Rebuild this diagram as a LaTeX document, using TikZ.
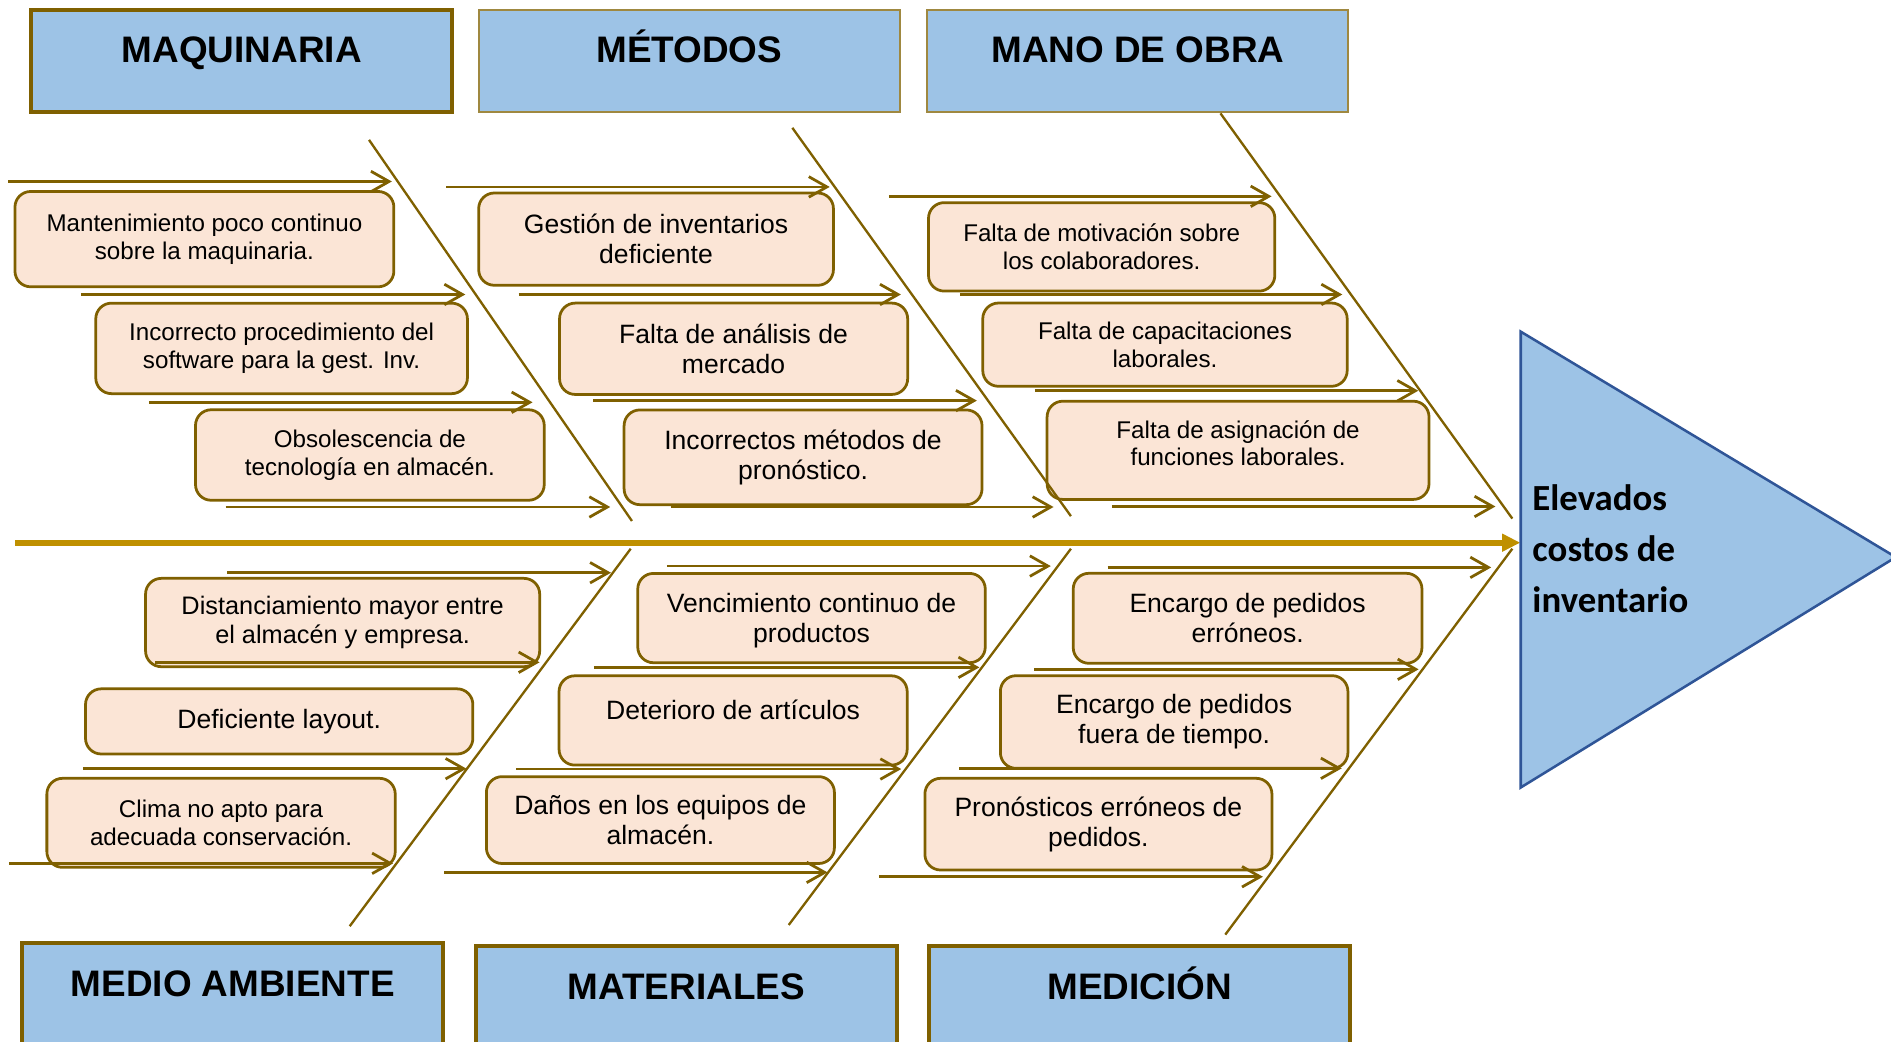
\documentclass[tikz,border=0pt]{standalone}
\usepackage{fontspec}
\setmainfont{Liberation Sans}
\newfontfamily\calibrifont{Carlito}
\usetikzlibrary{arrows.meta}
\definecolor{boneolive}{HTML}{7F6000}
\definecolor{headblue}{HTML}{9DC3E6}
\definecolor{causepeach}{HTML}{FBE5D6}
\definecolor{spinegold}{HTML}{BF9000}
\definecolor{effectline}{HTML}{2F5597}
\tikzset{
  header/.style={draw=boneolive, fill=headblue, line width=0.9pt, minimum width=3.49cm,
    minimum height=0.85cm, inner sep=0pt, text height=0.22cm, text depth=0.19cm,
    font=\bfseries\fontsize{8.7}{10}\selectfont},
  light header/.style={header, draw=boneolive!75, line width=0.5pt},
  cause/.style={draw=boneolive, fill=causepeach, rounded corners=0.13cm, line width=0.65pt,
    inner sep=0pt, align=center},
  cause small/.style={cause, font=\fontsize{5.7}{6.55}\selectfont},
  cause mid/.style={cause, font=\fontsize{5.97}{6.83}\selectfont},
  cause big/.style={cause, font=\fontsize{6.26}{7.1}\selectfont},
  causearrow/.style={draw=boneolive, line width=0.65pt, -{Straight Barb[length=0.15cm,width=0.17cm]}},
  bone/.style={draw=boneolive, line width=0.55pt},
  spine/.style={draw=spinegold, line width=1.45pt, -{Triangle[length=0.15cm,width=0.14cm]}},
  effectshape/.style={draw=effectline, fill=headblue, line width=0.6pt}
}
\begin{document}
\begin{tikzpicture}[x=0.01cm, y=-0.01cm]
\useasboundingbox (0,0) rectangle (1568,864);
% categorias
\node[header] (maq) at (200.5,50.5) {MAQUINARIA};
\node[light header] (met) at (571.5,50.5) {MÉTODOS};
\node[light header] (mob) at (943.5,50.5) {MANO DE OBRA};
\node[header] (mam) at (193,824.5) {MEDIO AMBIENTE};
\node[header] (mat) at (569,827) {MATERIALES};
\node[header] (med) at (945,827) {MEDICIÓN};
% causas
\node[cause small, minimum width=3.14cm, minimum height=0.79cm] (mq1) at (169.5,198.3) {Mantenimiento poco continuo\\sobre la maquinaria.};
\node[cause small, minimum width=3.08cm, minimum height=0.75cm] (mq2) at (233.5,288.9) {Incorrecto procedimiento del\\software para la gest. Inv.};
\node[cause small, minimum width=2.89cm, minimum height=0.75cm] (mq3) at (306.7,377.3) {Obsolescencia de\\tecnología en almacén.};
\node[cause big, minimum width=2.94cm, minimum height=0.765cm] (mt1) at (544,198.3) {Gestión de inventarios\\deficiente};
\node[cause big, minimum width=2.885cm, minimum height=0.757cm] (mt2) at (608.3,289.2) {Falta de análisis de\\mercado};
\node[cause big, minimum width=2.966cm, minimum height=0.785cm] (mt3) at (665.9,379.2) {Incorrectos métodos de\\pronóstico.};
\node[cause small, minimum width=2.87cm, minimum height=0.733cm] (mo1) at (913.5,204.7) {Falta de motivación sobre\\los colaboradores.};
\node[cause small, minimum width=3.02cm, minimum height=0.69cm] (mo2) at (966,285.8) {Falta de capacitaciones\\laborales.};
\node[cause small, minimum width=3.165cm, minimum height=0.814cm, text depth=0.12cm] (mo3) at (1026.6,373.4) {Falta de asignación de\\funciones laborales.};
\node[cause mid, minimum width=3.266cm, minimum height=0.732cm] (ma1) at (284.1,516.2) {Distanciamiento mayor entre\\el almacén y empresa.};
\node[cause big, minimum width=3.21cm, minimum height=0.54cm] (ma2) at (231.5,598.2) {Deficiente layout.};
\node[cause small, minimum width=2.887cm, minimum height=0.738cm] (ma3) at (183.3,682.3) {Clima no apto para\\adecuada conservación.};
\node[cause big, minimum width=2.88cm, minimum height=0.74cm, text depth=0pt] (mr1) at (672.9,512.5) {Vencimiento continuo de\\productos};
\node[cause big, minimum width=2.885cm, minimum height=0.74cm, text depth=0.17cm] (mr2) at (607.9,597.4) {Deterioro de artículos};
\node[cause big, minimum width=2.884cm, minimum height=0.72cm, text depth=0pt] (mr3) at (547.6,680) {Daños en los equipos de\\almacén.};
\node[cause big, minimum width=2.89cm, minimum height=0.746cm] (md1) at (1034.5,512.7) {Encargo de pedidos\\erróneos.};
\node[cause big, minimum width=2.88cm, minimum height=0.768cm] (md2) at (973.6,598.7) {Encargo de pedidos\\fuera de tiempo.};
\node[cause big, minimum width=2.876cm, minimum height=0.76cm] (md3) at (910.8,683.4) {Pronósticos erróneos de\\pedidos.};
% flechas
\draw[causearrow] (6.8,150.5) -- (324.9,150.5);
\draw[causearrow] (67,244.2) -- (385.8,244.2);
\draw[causearrow] (123.5,333.6) -- (441.6,333.6);
\draw[causearrow] (187,420.4) -- (506,420.4);
\draw[causearrow] (370,155) -- (688,155);
\draw[causearrow] (430,244.2) -- (747,244.2);
\draw[causearrow] (492,332.2) -- (810,332.2);
\draw[causearrow] (556,420.4) -- (873.6,420.4);
\draw[causearrow] (737,162.8) -- (1054.4,162.8);
\draw[causearrow] (796,244.2) -- (1113,244.2);
\draw[causearrow] (858,324) -- (1176,324);
\draw[causearrow] (922,420) -- (1240,420);
\draw[causearrow] (188.5,474.9) -- (506.6,474.9);
\draw[causearrow] (128.6,549.2) -- (447.4,549.2);
\draw[causearrow] (68.7,637.4) -- (386.8,637.4);
\draw[causearrow] (7.4,715.9) -- (325.9,715.9);
\draw[causearrow] (553,469.4) -- (871.3,469.4);
\draw[causearrow] (492.4,553.4) -- (812.1,553.4);
\draw[causearrow] (428.1,637.7) -- (747.3,637.7);
\draw[causearrow] (368.2,723.4) -- (686.2,723.4);
\draw[causearrow] (918.4,470.5) -- (1236.5,470.5);
\draw[causearrow] (857.6,555) -- (1176.3,555);
\draw[causearrow] (795.5,637.1) -- (1112.6,637.1);
\draw[causearrow] (728.8,727) -- (1047.2,727);
% espinas
\draw[bone] (306,116) -- (524,432);
\draw[bone] (657,106) -- (888,428);
\draw[bone] (1012,94) -- (1254,430);
\draw[bone] (523,455) -- (290,768);
\draw[bone] (888,455) -- (654,767);
\draw[bone] (1254,455) -- (1016,775);
\draw[spine] (12.5,450) -- (1260.6,450);
% efecto
\draw[effectshape] (1261,275) -- (1572,462) -- (1261,653) -- cycle;
\node[anchor=west, align=left, inner sep=0pt, font=\calibrifont\bfseries\fontsize{8.68}{11.95}\selectfont] (efecto) at (1270,455) {Elevados\\costos de\\inventario};
\end{tikzpicture}
\end{document}
